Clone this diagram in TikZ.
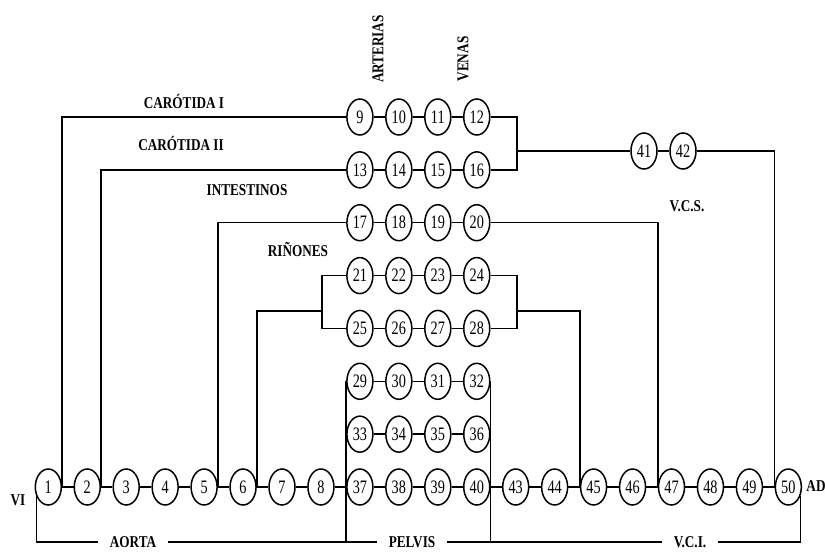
\documentclass[tikz,border=0pt]{standalone}
\usepackage{fontspec}
\usetikzlibrary{shapes.geometric}
\newfontfamily\numfont[FakeStretch=0.75]{Liberation Serif}
\newfontfamily\labfont[FakeStretch=0.8]{Liberation Serif}
\begin{document}
\begin{tikzpicture}[x=1pt,y=-1pt,line width=1.5pt,
  vessel/.style={ellipse,draw,minimum width=26pt,minimum height=36pt,inner sep=0pt,
    font=\numfont\fontsize{19}{19}\selectfont},
  tag/.style={inner sep=0pt,font=\labfont\bfseries\fontsize{16.5}{16.5}\selectfont},
  gap/.style={tag,inner xsep=11pt}]
\useasboundingbox (0,0) rectangle (825,554);

% main circuit: left ventricle (1) to right atrium (50)
\foreach \n [count=\i from 0] in {1,2,3,4,5,6,7,8,37,38,39,40,43,44,45,46,47,48,49,50}
  \node[vessel] (n\n) at ({48.3+38.95*\i},487) {\n};

% organ beds, four compartments each (arteries ... veins)
\foreach \r in {0,...,6}
  \foreach \c in {0,...,3}{
    \pgfmathtruncatemacro\k{9+4*\r+\c}
    \node[vessel] (n\k) at ({359.9+38.95*\c},{117+52.86*\r}) {\k};
  }

% superior vena cava
\node[vessel] (n41) at (644,151) {41};
\node[vessel] (n42) at (683,151) {42};

% series links
\draw (n1)--(n2)--(n3)--(n4)--(n5)--(n6)--(n7)--(n8)--(n37)--(n38)--(n39)--(n40)
      --(n43)--(n44)--(n45)--(n46)--(n47)--(n48)--(n49)--(n50);
\foreach \a in {9,13,17,21,25,29,33}{
  \pgfmathtruncatemacro\b{\a+1}
  \pgfmathtruncatemacro\c{\a+2}
  \pgfmathtruncatemacro\d{\a+3}
  \draw (n\a)--(n\b)--(n\c)--(n\d);
}
\draw (n41)--(n42);

% carotids
\draw (n1.east) |- (n9.west);
\draw (n2.east) |- (n13.west);
\coordinate (hv) at (517,151);
\draw (n12.east) -| (hv);
\draw (n16.east) -| (hv);
\draw (hv) -- (n41.west);
\draw (n42.east) -| (n50.west);

% intestines
\draw (n5.east) |- (n17.west);
\draw (n20.east) -| (n47.west);

% kidneys
\coordinate (kl) at (322,311);
\coordinate (kr) at (517,311);
\draw (n6.east) |- (kl);
\draw (n21.west) -| (kl);
\draw (n25.west) -| (kl);
\draw (n24.east) -| (kr);
\draw (n28.east) -| (kr);
\draw (n45.west) |- (kr);

% labels
\node[tag] (vi) at (18,500) {VI};
\node[tag] (ad) at (816,486) {AD};
\node[tag,anchor=base] (car1) at (184,108) {CARÓTIDA I};
\node[tag,anchor=base] (car2) at (181,150) {CARÓTIDA II};
\node[tag,anchor=base] (intes) at (247,195) {INTESTINOS};
\node[tag,anchor=base] (rin) at (298,256) {RIÑONES};
\node[tag,anchor=base] (vcs) at (687,211) {V.C.S.};
\node[tag,rotate=90] (art) at (378,49) {ARTERIAS};
\node[tag,rotate=90] (ven) at (463,59) {VENAS};

% return line along the bottom
\node[gap] (aorta) at (133,542) {AORTA};
\node[gap] (pelvis) at (412,542) {PELVIS};
\node[gap] (vci) at (690,542) {V.C.I.};
\draw (n1.218) |- (aorta.west);
\draw (aorta.east) -- (pelvis.west);
\draw (pelvis.east) -- (vci.west);
\draw (vci.east) -| (n50.-38);

% pelvis bed
\draw (n29.west) -- (n29.west |- aorta.center);
\draw (n32.east) -- (n32.east |- aorta.center);
\end{tikzpicture}
\end{document}
